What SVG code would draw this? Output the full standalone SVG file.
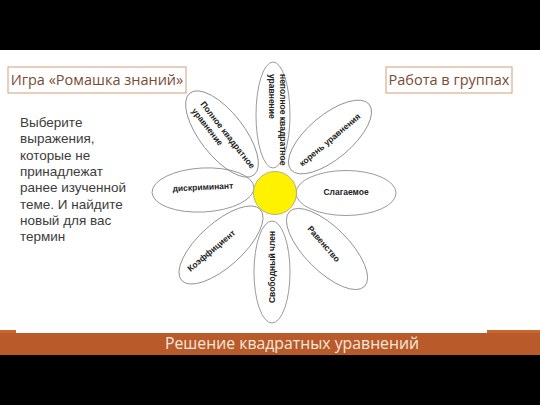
<svg xmlns="http://www.w3.org/2000/svg" width="540" height="405" viewBox="0 0 540 405">
<style>
.petal{fill:none;stroke:#808080;stroke-width:0.8}
.pt{font-family:"Liberation Sans",Arial,sans-serif;font-weight:bold;font-size:8.5px;fill:#222}
.title{font-family:"Open Sans","DejaVu Sans",sans-serif;font-size:14.5px;fill:#7a4a33}
.tbox{fill:#fff;stroke:#dcae92;stroke-width:1.2}
.para{font-family:"Liberation Sans",Arial,sans-serif;font-size:13.5px;fill:#3c3c3c}
</style>
<rect x="0" y="0" width="540" height="405" fill="#000"/>
<rect x="0" y="50" width="540" height="305" fill="#fff"/>
<rect x="0" y="333" width="540" height="22" fill="#b95a2b"/>
<rect x="0" y="330" width="16" height="3" fill="#c8662e"/>
<rect x="487" y="330" width="53" height="3" fill="#c8662e"/>
<text x="292" y="349" text-anchor="middle" font-family="'Open Sans','DejaVu Sans',sans-serif" font-size="15.8" fill="#f6e8dc">Решение квадратных уравнений</text>

<g id="title-left">
<rect class="tbox" x="8" y="67" width="178" height="26"/>
<text class="title" x="97" y="85" text-anchor="middle">Игра «Ромашка знаний»</text>
</g>
<g id="title-right">
<rect class="tbox" x="386" y="67" width="126" height="26"/>
<text class="title" x="449" y="85" text-anchor="middle">Работа в группах</text>
</g>
<g id="task">
<text class="para" x="20" y="127">Выберите</text>
<text class="para" x="20" y="143.3">выражения,</text>
<text class="para" x="20" y="159.6">которые не</text>
<text class="para" x="20" y="175.9">принадлежат</text>
<text class="para" x="20" y="192.2">ранее изученной</text>
<text class="para" x="20" y="208.5">теме. И найдите</text>
<text class="para" x="20" y="224.8">новый для вас</text>
<text class="para" x="20" y="241.1">термин</text>
</g>

<g id="petal-top" transform="translate(273,115) rotate(90)">
<ellipse class="petal" cx="0" cy="0" rx="53" ry="17"/>
<text class="pt" x="-41" y="-7">неполное квадратное</text>
<text class="pt" x="-41" y="4">уравнение</text>
</g>
<g id="petal-upper-left" transform="translate(222,134) rotate(52)">
<ellipse class="petal" cx="0" cy="0" rx="52" ry="22"/>
<text class="pt" x="-37" y="-1">Полное квадратное</text>
<text class="pt" x="-37" y="10">уравнение</text>
</g>
<g id="petal-upper-right" transform="translate(330,137) rotate(-40)">
<ellipse class="petal" cx="0" cy="0" rx="51" ry="22"/>
<text class="pt" x="-2" y="5" text-anchor="middle">корень уравнения</text>
</g>
<g id="petal-left" transform="translate(203,190) rotate(-3)">
<ellipse class="petal" cx="0" cy="0" rx="51" ry="22"/>
<text class="pt" x="0" y="0" text-anchor="middle">дискриминант</text>
</g>
<g id="petal-right" transform="translate(346,193)">
<ellipse class="petal" cx="0" cy="0" rx="50" ry="22.5"/>
<text class="pt" x="0" y="2" text-anchor="middle">Слагаемое</text>
</g>
<g id="petal-lower-left" transform="translate(221,245) rotate(-42)">
<ellipse class="petal" cx="0" cy="0" rx="53" ry="22"/>
<text class="pt" x="-11" y="1" text-anchor="middle" transform="rotate(2)">Коэффициент</text>
</g>
<g id="petal-bottom" transform="translate(272,272) rotate(-90)">
<ellipse class="petal" cx="0" cy="0" rx="51" ry="18"/>
<text class="pt" x="5" y="3" text-anchor="middle">Свободный член</text>
</g>
<g id="petal-lower-right" transform="translate(327,249) rotate(45)">
<ellipse class="petal" cx="0" cy="0" rx="53" ry="22"/>
<text class="pt" x="-6" y="2" text-anchor="middle" transform="rotate(4)">Равенство</text>
</g>
<g id="center">
<circle cx="275" cy="193" r="21.5" fill="#fff200" stroke="#b5b08a" stroke-width="1"/>
</g>
</svg>
